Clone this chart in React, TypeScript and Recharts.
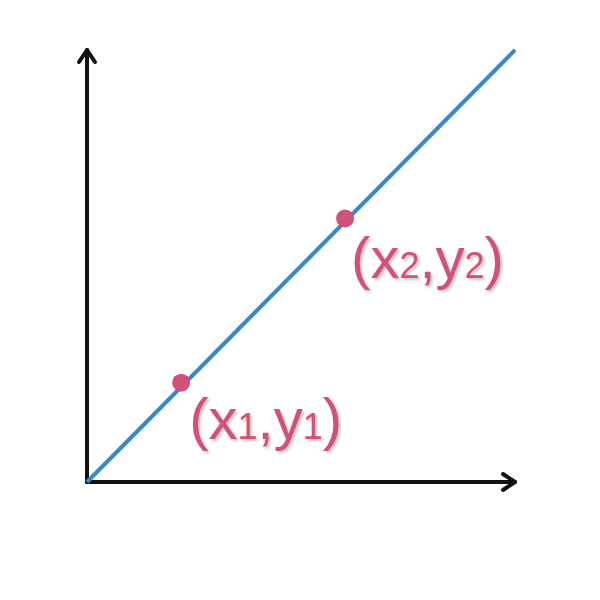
import React from 'react';
import { LineChart, Line, XAxis, YAxis, ReferenceLine, ReferenceDot } from 'recharts';

const lineData = [{ x: 0, y: 0 }, { x: 100, y: 100 }];
const points = [
  { x: 22, y: 23, label: ['x', '1', 'y', '1'], dx: 8, dy: 56 },
  { x: 60.3, y: 61, label: ['x', '2', 'y', '2'], dx: 6, dy: 60 },
];
const PINK = '#d2517a';

const Arrow = (dir: 'up' | 'right') => (props: any) => {
  const { x1, y1, x2, y2 } = props;
  const tip = dir === 'up' ? `M${x2 - 8},${y2 + 12} L${x2},${y2} L${x2 + 8},${y2 + 12}` : `M${x2 - 12},${y2 - 8} L${x2},${y2} L${x2 - 12},${y2 + 8}`;
  return (
    <g>
      <line x1={x1} y1={y1} x2={x2} y2={y2} stroke="#111" strokeWidth={4} strokeLinecap="round" />
      <path d={tip} fill="none" stroke="#111" strokeWidth={4} strokeLinecap="round" strokeLinejoin="round" />
    </g>
  );
};

const PointLabel = (lab: string[], dx: number, dy: number) => (props: any) => {
  const { viewBox } = props;
  const cx = viewBox.x + (viewBox.width || 0) / 2;
  const cy = viewBox.y + (viewBox.height || 0) / 2;
  return (
    <text x={cx + dx} y={cy + dy} fill={PINK} fontFamily="'Liberation Sans', Arial, sans-serif" fontWeight={400} fontSize={58}
      style={{ textShadow: '2px 2px 3px rgba(0,0,0,0.25)' }}>
      (<tspan>{lab[0]}</tspan><tspan fontSize={36}>{lab[1]}</tspan>,<tspan>{lab[2]}</tspan><tspan fontSize={36}>{lab[3]}</tspan>)
    </text>
  );
};

export default function App() {
  return (
    <div style={{ position: 'absolute', left: 0, top: 0, width: 600, height: 600, background: '#fff' }}>
      <LineChart width={600} height={600} data={lineData} margin={{ top: 50, left: 87, right: 85, bottom: 118 }}>
        <XAxis type="number" dataKey="x" domain={[0, 100]} hide />
        <YAxis type="number" dataKey="y" domain={[0, 100]} hide />
        <ReferenceLine segment={[{ x: 0, y: 0 }, { x: 100, y: 0 }]} shape={Arrow('right')} ifOverflow="visible" />
        <ReferenceLine segment={[{ x: 0, y: 0 }, { x: 0, y: 100 }]} shape={Arrow('up')} ifOverflow="visible" />
        <Line dataKey="y" stroke="#3b86cf" strokeWidth={4} dot={false} isAnimationActive={false} />
        {points.map((p, i) => (
          <ReferenceDot key={i} x={p.x} y={p.y} r={9} fill={PINK} stroke="none" ifOverflow="visible"
            label={PointLabel(p.label, p.dx, p.dy)} />
        ))}
      </LineChart>
    </div>
  );
}
